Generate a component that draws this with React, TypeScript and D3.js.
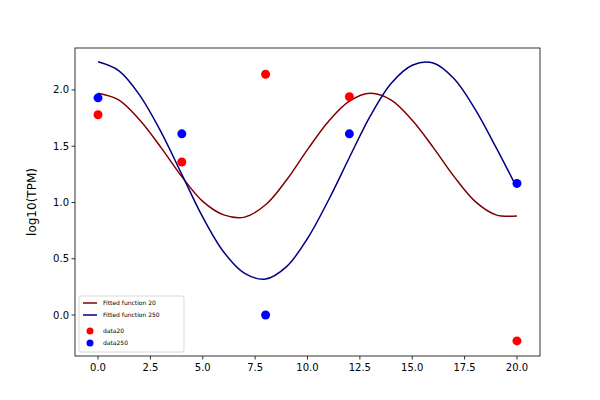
import React from 'react';
import * as d3 from 'd3';

const fitX = [0, 1, 2, 3, 4, 5, 6, 7, 8, 9, 10, 11, 12, 13, 14, 15, 16, 17, 18, 19, 20];
const fit20 = [1.97, 1.91, 1.73, 1.49, 1.23, 1.01, 0.89, 0.87, 0.98, 1.2, 1.47, 1.72, 1.9, 1.97, 1.91, 1.73, 1.49, 1.23, 1.01, 0.89, 0.88];
const fit250 = [2.25, 2.17, 1.95, 1.63, 1.25, 0.87, 0.56, 0.37, 0.32, 0.43, 0.68, 1.02, 1.4, 1.77, 2.06, 2.22, 2.24, 2.1, 1.83, 1.49, 1.13];
const dataX = [0, 4, 8, 12, 20];
const data20 = [1.78, 1.36, 2.14, 1.94, -0.23];
const data250 = [1.93, 1.61, 0.0, 1.61, 1.17];
const xTicks = [0, 2.5, 5, 7.5, 10, 12.5, 15, 17.5, 20];
const yTicks = [0, 0.5, 1, 1.5, 2];

const W = 600, H = 400;
const m = { left: 75, right: 540, top: 48, bottom: 356 };

export default function App() {
  const x = d3.scaleLinear().domain([-1.1, 21.1]).range([m.left, m.right]);
  const y = d3.scaleLinear().domain([-0.364, 2.373]).range([m.bottom, m.top]);
  const line = (vals: number[]) =>
    d3.line<number>().x((_, i) => x(fitX[i])).y(v => y(v)).curve(d3.curveCatmullRom)(vals) || '';
  const font = 'DejaVu Sans, sans-serif';
  return (
    <svg width={W} height={H} style={{ position: 'absolute', left: 0, top: 0, background: '#fff' }} fontFamily={font}>
      <path d={line(fit20)} fill="none" stroke="#800000" strokeWidth={1.5} />
      <path d={line(fit250)} fill="none" stroke="#000080" strokeWidth={1.5} />
      {dataX.map((d, i) => <circle key={'r' + i} cx={x(d)} cy={y(data20[i])} r={4.5} fill="#ff0000" />)}
      {dataX.map((d, i) => <circle key={'b' + i} cx={x(d)} cy={y(data250[i])} r={4.5} fill="#0000ff" />)}
      <rect x={m.left} y={m.top} width={m.right - m.left} height={m.bottom - m.top} fill="none" stroke="#000" strokeWidth={0.8} />
      {xTicks.map(t => (
        <g key={t}>
          <line x1={x(t)} x2={x(t)} y1={m.bottom} y2={m.bottom + 3.5} stroke="#000" strokeWidth={0.8} />
          <text x={x(t)} y={m.bottom + 15} fontSize={10} textAnchor="middle">{t.toFixed(1)}</text>
        </g>
      ))}
      {yTicks.map(t => (
        <g key={t}>
          <line x1={m.left - 3.5} x2={m.left} y1={y(t)} y2={y(t)} stroke="#000" strokeWidth={0.8} />
          <text x={m.left - 6} y={y(t) + 3.5} fontSize={10} textAnchor="end">{t.toFixed(1)}</text>
        </g>
      ))}
      <text transform={`translate(36,${(m.top + m.bottom) / 2}) rotate(-90)`} fontSize={12} textAnchor="middle">log10(TPM)</text>
      <g transform="translate(79,296)" fontSize={6}>
        <rect width={105} height={56} rx={2} fill="#fff" stroke="#ccc" strokeWidth={0.8} opacity={0.9} />
        <line x1={4} x2={18} y1={7} y2={7} stroke="#800000" strokeWidth={1.5} />
        <text x={24} y={9}>Fitted function 20</text>
        <line x1={4} x2={18} y1={19} y2={19} stroke="#000080" strokeWidth={1.5} />
        <text x={24} y={21}>Fitted function 250</text>
        <circle cx={11} cy={35} r={3.5} fill="#ff0000" />
        <text x={24} y={37}>data20</text>
        <circle cx={11} cy={47} r={3.5} fill="#0000ff" />
        <text x={24} y={49}>data250</text>
      </g>
    </svg>
  );
}
